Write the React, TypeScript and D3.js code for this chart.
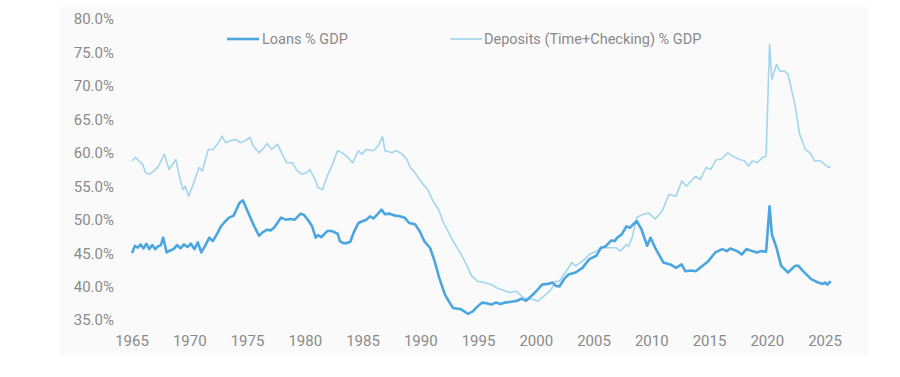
import React from "react";
import * as d3 from "d3";

const loanYears = [1965.0,1965.25,1965.5,1965.75,1966.0,1966.25,1966.5,1966.75,1967.0,1967.25,1967.5,1967.7,1968.0,1968.3,1968.6,1968.9,1969.2,1969.5,1969.8,1970.1,1970.4,1970.7,1971.0,1971.3,1971.7,1972.0,1972.4,1972.7,1973.0,1973.4,1973.8,1974.3,1974.6,1975.0,1975.5,1976.0,1976.3,1976.7,1977.0,1977.3,1977.9,1978.3,1978.7,1979.1,1979.6,1979.9,1980.3,1980.6,1980.9,1981.1,1981.4,1981.9,1982.3,1982.8,1983.0,1983.3,1983.6,1983.9,1984.2,1984.6,1985.0,1985.3,1985.6,1985.9,1986.2,1986.6,1986.9,1987.3,1987.8,1988.2,1988.6,1989.0,1989.5,1989.9,1990.3,1990.8,1991.2,1991.6,1992.1,1992.5,1992.8,1993.5,1994.1,1994.5,1994.9,1995.3,1995.7,1996.1,1996.5,1996.9,1997.3,1997.7,1998.1,1998.4,1998.7,1999.1,1999.4,2000.0,2000.5,2001.0,2001.4,2001.7,2002.0,2002.4,2002.8,2003.4,2004.0,2004.6,2005.2,2005.6,2006.0,2006.5,2006.8,2007.0,2007.4,2007.8,2008.1,2008.7,2009.1,2009.6,2009.9,2010.3,2011.0,2011.6,2012.1,2012.6,2012.9,2013.4,2013.8,2014.4,2014.9,2015.5,2016.1,2016.5,2016.8,2017.4,2017.8,2018.2,2018.7,2019.1,2019.5,2019.9,2020.2,2020.4,2020.8,2021.2,2021.8,2022.4,2022.7,2023.1,2023.8,2024.4,2024.8,2025.0,2025.2,2025.5];
const loanValues = [45.0,46.1,45.8,46.3,45.7,46.4,45.6,46.2,45.6,46.0,46.2,47.3,45.1,45.4,45.6,46.2,45.7,46.3,45.9,46.4,45.6,46.6,45.1,46.0,47.3,46.8,48.0,49.0,49.6,50.3,50.6,52.5,52.9,51.3,49.3,47.6,48.1,48.5,48.4,48.8,50.3,50.0,50.1,50.0,50.9,50.7,49.8,49.0,47.3,47.7,47.4,48.3,48.3,47.9,46.8,46.5,46.5,46.7,48.1,49.5,49.8,50.0,50.5,50.2,50.7,51.5,50.8,50.9,50.6,50.5,50.3,49.5,49.3,48.3,46.8,45.8,43.8,41.3,38.8,37.6,36.8,36.6,35.9,36.3,37.0,37.6,37.5,37.3,37.6,37.4,37.6,37.7,37.8,37.9,38.2,37.9,38.3,39.3,40.3,40.4,40.6,40.1,40.0,41.1,41.8,42.1,42.8,44.1,44.6,45.8,46.0,46.9,46.8,47.3,47.8,49.0,48.8,49.8,48.6,46.1,47.3,45.8,43.6,43.3,42.8,43.3,42.3,42.4,42.3,43.1,43.8,45.1,45.6,45.3,45.7,45.3,44.8,45.6,45.3,45.1,45.3,45.2,52.0,47.8,45.8,43.1,42.1,43.1,43.1,42.3,41.1,40.6,40.4,40.6,40.3,40.8];

const depYears = [1965.0,1965.3,1965.6,1965.9,1966.2,1966.5,1966.9,1967.3,1967.8,1968.2,1968.8,1969.1,1969.4,1969.6,1969.9,1970.3,1970.8,1971.1,1971.6,1972.0,1972.4,1972.8,1973.1,1973.5,1974.0,1974.4,1974.8,1975.2,1975.5,1976.0,1976.3,1976.7,1977.1,1977.6,1978.0,1978.4,1978.9,1979.3,1979.7,1980.1,1980.4,1980.9,1981.1,1981.5,1981.9,1982.3,1982.8,1983.2,1983.7,1984.1,1984.6,1984.9,1985.3,1985.9,1986.3,1986.7,1986.9,1987.5,1987.9,1988.4,1988.8,1989.1,1989.5,1990.1,1990.6,1991.0,1991.6,1991.9,1992.8,1993.4,1993.8,1994.4,1994.9,1995.5,1996.1,1996.6,1997.2,1997.7,1998.3,1998.7,1999.1,1999.7,2000.1,2000.7,2001.3,2001.7,2002.0,2002.4,2003.1,2003.4,2004.0,2004.6,2005.2,2005.7,2006.5,2006.9,2007.3,2007.8,2008.0,2008.3,2008.7,2009.1,2009.7,2010.3,2010.9,2011.5,2012.1,2012.6,2013.0,2013.8,2014.2,2014.7,2015.1,2015.6,2016.0,2016.6,2017.0,2017.6,2018.0,2018.4,2018.7,2019.1,2019.6,2019.9,2020.2,2020.4,2020.8,2021.1,2021.5,2021.8,2022.4,2022.8,2023.3,2023.7,2024.1,2024.6,2025.3,2025.5];
const depValues = [58.8,59.3,58.8,58.3,57.0,56.8,57.3,58.0,59.8,57.5,59.0,56.5,54.5,55.0,53.5,55.3,57.8,57.3,60.5,60.5,61.3,62.5,61.5,61.8,62.0,61.5,61.8,62.3,61.0,60.0,60.5,61.4,60.5,61.3,59.8,58.5,58.5,57.3,56.8,57.0,57.5,55.8,54.8,54.5,56.5,58.0,60.3,60.0,59.3,58.5,60.3,59.8,60.5,60.3,61.0,62.4,60.3,60.0,60.3,59.8,59.0,57.8,57.0,55.5,54.5,53.0,51.3,49.8,46.8,45.1,43.8,41.6,40.8,40.6,40.3,39.8,39.4,39.1,39.3,38.6,38.2,38.1,37.8,38.6,39.6,40.8,40.8,41.8,43.6,43.1,43.8,44.8,45.3,45.8,45.8,45.8,45.3,46.3,46.0,47.3,50.3,50.7,51.0,50.1,51.3,53.8,53.5,55.8,55.0,56.5,56.0,57.8,57.5,59.0,59.0,60.0,59.5,59.0,58.8,58.0,58.8,58.5,59.3,59.5,76.2,71.0,73.2,72.2,72.2,71.7,67.2,62.8,60.5,60.0,58.8,58.8,57.8,58.0];

const yTicks = [35, 40, 45, 50, 55, 60, 65, 70, 75, 80];
const xTicks = [1965, 1970, 1975, 1980, 1985, 1990, 1995, 2000, 2005, 2010, 2015, 2020, 2025];
const seriesNames = ["Loans % GDP", "Deposits (Time+Checking) % GDP"];

export default function App() {
  const W = 900, H = 377;
  const x = d3.scaleLinear().domain([1965, 2025]).range([132, 825]);
  const y = d3.scaleLinear().domain([35, 80]).range([320, 19]);
  const line = d3.line<[number, number]>().x(d => x(d[0])).y(d => y(d[1]));
  const loans = loanYears.map((t, i) => [t, loanValues[i]] as [number, number]);
  const deps = depYears.map((t, i) => [t, depValues[i]] as [number, number]);
  const font = "Roboto, 'Noto Sans', sans-serif";
  const loanColor = "#4ba5df";
  const depColor = "#a2d5ef";
  return (
    <svg width={W} height={H} style={{ position: "absolute", left: 0, top: 0, background: "#fff" }}>
      <rect x={60} y={7} width={808} height={348} fill="#fafafa" />
      {yTicks.map(t => (
        <text key={t} x={114} y={y(t)} dy="0.36em" textAnchor="end" fontFamily={font} fontSize={15} fill="#8a8a8a">
          {t.toFixed(1)}%
        </text>
      ))}
      {xTicks.map(t => (
        <text key={t} x={x(t)} y={346} textAnchor="middle" fontFamily={font} fontSize={15} fill="#8a8a8a">
          {t}
        </text>
      ))}
      <path d={line(deps) || ""} fill="none" stroke={depColor} strokeWidth={1.6} strokeLinejoin="round" />
      <path d={line(loans) || ""} fill="none" stroke={loanColor} strokeWidth={2.6} strokeLinejoin="round" />
      <line x1={227} x2={259} y1={39} y2={39} stroke={loanColor} strokeWidth={2.6} />
      <text x={262} y={44} fontFamily={font} fontSize={14.5} fill="#8a8a8a">{seriesNames[0]}</text>
      <line x1={450} x2={482} y1={39} y2={39} stroke={depColor} strokeWidth={1.6} />
      <text x={484} y={44} fontFamily={font} fontSize={14.5} fill="#8a8a8a">{seriesNames[1]}</text>
    </svg>
  );
}
